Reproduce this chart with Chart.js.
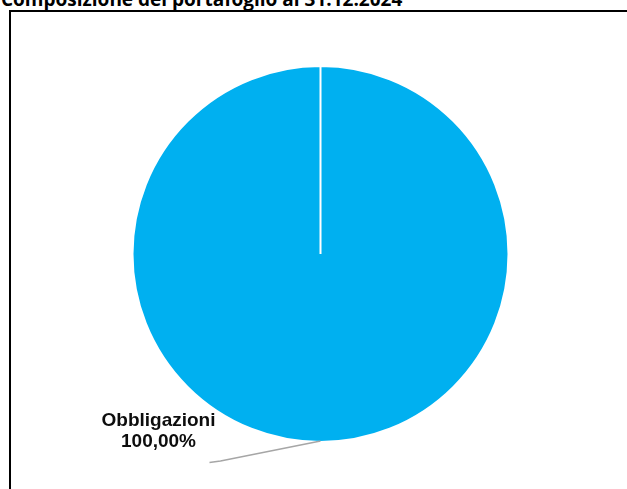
<!DOCTYPE html>
<html>
<head>
<meta charset="utf-8">
<script src="https://cdn.jsdelivr.net/npm/chart.js@4.4.1/dist/chart.umd.min.js"></script>
<style>
    html, body { margin: 0; padding: 0; background: #fff; overflow: hidden; }
    body { width: 627px; height: 489px; position: relative; }
    #title {
        position: absolute; left: 1px; top: -14px;
        font: bold 19px "Open Sans", sans-serif;
        letter-spacing: 0;
        color: #000; white-space: nowrap;
    }
    #frame {
        position: absolute; left: 9px; top: 10px;
        width: 700px; height: 600px;
        border: 2px solid #000;
    }
    #wrap { position: absolute; left: 0; top: 0; width: 627px; height: 489px; }
</style>
</head>
<body>
<div id="title">Composizione del portafoglio al 31.12.2024</div>
<div id="frame"></div>
<div id="wrap"><canvas id="chart"></canvas></div>
<script>
// ─── Data ─────────────────────────────────────────────
const categories = ['Obbligazioni'];
const shares     = [100];
const colors     = ['#00B0F0'];

// ─── Helpers ──────────────────────────────────────────

function formatPct(v) {
    return v.toFixed(2).replace('.', ',') + '%';
}

// Excel-style outside label with a leader line
const leaderLabels = {
    id: 'leaderLabels',
    afterDatasetsDraw(chart) {
        const ctx  = chart.ctx;
        const meta = chart.getDatasetMeta(0);
        meta.data.forEach((arc, i) => {
            const { x, y, startAngle, endAngle, outerRadius } = arc.getProps(
                ['x', 'y', 'startAngle', 'endAngle', 'outerRadius'], true);
            const mid = (startAngle + endAngle) / 2;
            const px  = x + Math.cos(mid) * (outerRadius - 1);
            const py  = y + Math.sin(mid) * (outerRadius - 1);

            ctx.save();
            ctx.strokeStyle = '#a6a6a6';
            ctx.lineWidth = 1.5;
            ctx.beginPath();
            ctx.moveTo(px, py);
            ctx.lineTo(px - 100, py + 20);
            ctx.lineTo(px - 111, py + 21.5);
            ctx.stroke();

            ctx.fillStyle = '#0d0d0d';
            ctx.font = 'bold 19px "Liberation Sans", Arial, sans-serif';
            ctx.textAlign = 'center';
            ctx.textBaseline = 'alphabetic';
            ctx.fillText(categories[i], px - 162, py - 15);
            ctx.fillText(formatPct(shares[i]), px - 162, py + 6);
            ctx.restore();
        });
    },
};

new Chart(document.getElementById('chart').getContext('2d'), {
    type: 'pie',
    data: {
        labels: categories,
        datasets: [{
            data: shares,
            backgroundColor: colors,
            borderColor: '#ffffff',
            borderWidth: 2,
        }],
    },
    options: {
        responsive: true,
        maintainAspectRatio: false,
        animation: false,
        layout: { padding: { left: 131.5, right: 117.5, top: 65, bottom: 46 } },
        plugins: {
            legend:  { display: false },
            tooltip: { enabled: false },
        },
    },
    plugins: [leaderLabels],
});
</script>
</body>
</html>
